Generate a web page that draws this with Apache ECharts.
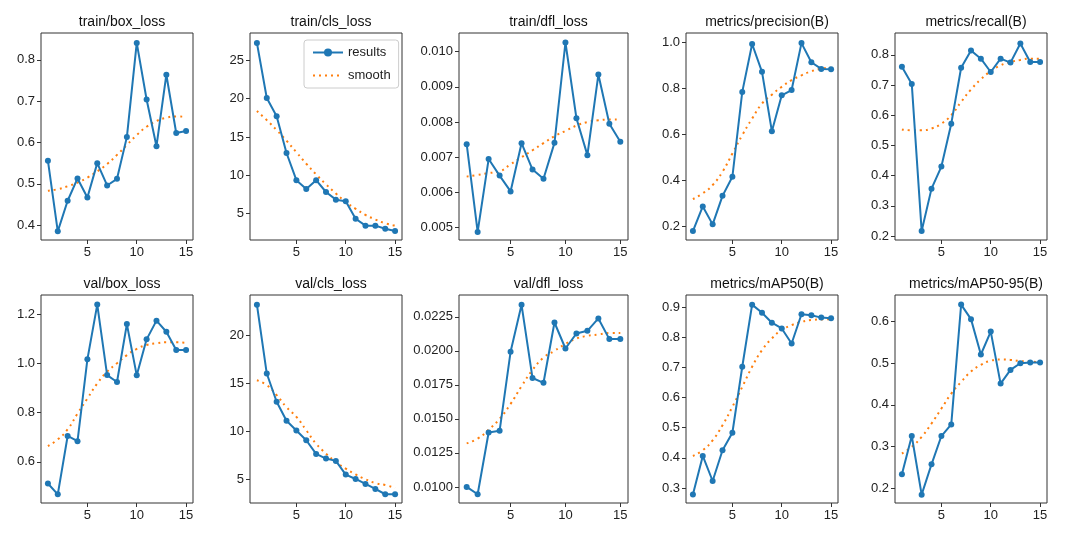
<!DOCTYPE html>
<html><head><meta charset="utf-8">
<script src="https://cdn.jsdelivr.net/npm/echarts@6/dist/echarts.min.js"></script>
<style>html,body{margin:0;padding:0;background:#fff}#c{width:1080px;height:540px}</style>
</head><body><div id="c"></div>
<script>
const epochs = [1,2,3,4,5,6,7,8,9,10,11,12,13,14,15];
const titles = ['train/box_loss','train/cls_loss','train/dfl_loss','metrics/precision(B)','metrics/recall(B)',
                'val/box_loss','val/cls_loss','val/dfl_loss','metrics/mAP50(B)','metrics/mAP50-95(B)'];
const trainBox = [0.556,0.385,0.459,0.513,0.467,0.550,0.496,0.512,0.613,0.841,0.704,0.591,0.764,0.623,0.628];
const trainBoxSm = [0.483,0.487,0.494,0.503,0.515,0.530,0.548,0.570,0.594,0.618,0.638,0.652,0.660,0.663,0.662];
const trainCls = [27.3,20.1,17.7,12.9,9.35,8.2,9.35,7.8,6.8,6.6,4.3,3.4,3.4,3.0,2.7];
const trainClsSm = [18.4,17.2,15.9,14.5,13.0,11.5,10.1,8.8,7.6,6.5,5.6,4.8,4.2,3.7,3.4];
const trainDfl = [0.00737,0.00488,0.00695,0.00648,0.00603,0.00740,0.00665,0.00639,0.00741,0.01026,0.00811,0.00706,0.00935,0.00795,0.00744];
const trainDflSm = [0.00645,0.0065,0.00655,0.0066,0.0068,0.0070,0.0072,0.0074,0.0076,0.00775,0.0079,0.0080,0.00805,0.00807,0.00807];
const precision = [0.181,0.288,0.210,0.334,0.417,0.786,0.994,0.873,0.615,0.771,0.794,0.998,0.915,0.886,0.884];
const precisionSm = [0.320,0.345,0.381,0.439,0.518,0.598,0.670,0.735,0.774,0.808,0.837,0.858,0.876,0.887,0.891];
const recall = [0.760,0.703,0.217,0.357,0.430,0.572,0.757,0.814,0.787,0.743,0.787,0.774,0.837,0.776,0.776];
const recallSm = [0.553,0.550,0.550,0.556,0.572,0.600,0.644,0.685,0.719,0.746,0.765,0.776,0.783,0.787,0.787];
const valBox = [0.512,0.468,0.705,0.684,1.016,1.238,0.952,0.924,1.159,0.951,1.097,1.173,1.128,1.054,1.054];
const valBoxSm = [0.664,0.691,0.732,0.796,0.857,0.918,0.966,1.0,1.033,1.058,1.074,1.081,1.085,1.085,1.083];
const valCls = [23.16,16.0,13.06,11.08,10.07,9.06,7.64,7.15,6.91,5.49,5.03,4.51,3.99,3.44,3.44];
const valClsSm = [15.3,14.8,13.75,12.5,11.5,10.1,8.7,7.67,6.8,6.1,5.5,5.0,4.6,4.4,4.1];
const valDfl = [0.0100,0.00946,0.0140,0.01412,0.01993,0.02338,0.0180,0.01765,0.02208,0.02017,0.02127,0.02147,0.02238,0.02086,0.02086];
const valDflSm = [0.0132,0.01355,0.0142,0.0150,0.0161,0.0174,0.0186,0.0195,0.0200,0.0205,0.0209,0.0211,0.0212,0.0213,0.0213];
const map50 = [0.278,0.406,0.323,0.425,0.483,0.702,0.908,0.881,0.848,0.829,0.779,0.876,0.873,0.865,0.863];
const map50Sm = [0.406,0.425,0.458,0.508,0.569,0.635,0.702,0.757,0.796,0.824,0.840,0.851,0.857,0.859,0.860];
const map5095 = [0.233,0.325,0.184,0.257,0.325,0.353,0.641,0.606,0.521,0.576,0.451,0.484,0.500,0.502,0.502];
const map5095Sm = [0.283,0.299,0.323,0.355,0.391,0.427,0.455,0.480,0.496,0.506,0.509,0.508,0.505,0.504,0.502];
const xTicks = [5,10,15];
const yTicks = [
  [0.4,0.5,0.6,0.7,0.8],[5,10,15,20,25],[0.005,0.006,0.007,0.008,0.009,0.010],[0.2,0.4,0.6,0.8,1.0],[0.2,0.3,0.4,0.5,0.6,0.7,0.8],
  [0.6,0.8,1.0,1.2],[5,10,15,20],[0.0100,0.0125,0.0150,0.0175,0.0200,0.0225],[0.3,0.4,0.5,0.6,0.7,0.8,0.9],[0.2,0.3,0.4,0.5,0.6]];
const yDigits = [1,0,3,1,1,1,0,4,1,1];
const yRanges = [[0.364,0.865],[1.52,28.6],[0.00465,0.01053],[0.142,1.042],[0.187,0.872],
                 [0.433,1.277],[2.53,24.17],[0.00882,0.0241],[0.25,0.94],[0.164,0.664]];
const results = [trainBox,trainCls,trainDfl,precision,recall,valBox,valCls,valDfl,map50,map5095];
const smooth = [trainBoxSm,trainClsSm,trainDflSm,precisionSm,recallSm,valBoxSm,valClsSm,valDflSm,map50Sm,map5095Sm];

const lefts=[41,250,459,686,895], widths=[152,152,169,152,152], tops=[33,295], heights=[207,208];
const font='Liberation Sans';
const grid=[],xAxis=[],yAxis=[],series=[],title=[];
for(let i=0;i<10;i++){
  const c=i%5,r=Math.floor(i/5);
  grid.push({left:lefts[c],top:tops[r],width:widths[c],height:heights[r],show:true,borderColor:'#333',borderWidth:1,backgroundColor:'#fff'});
  title.push({text:titles[i],left:lefts[c]+widths[c]/2,top:tops[r]-23,textAlign:'center',textStyle:{fontFamily:font,fontSize:14,fontWeight:'normal',color:'#111'}});
  xAxis.push({type:'value',gridIndex:i,min:0.3,max:15.7,splitLine:{show:false},
    axisLine:{show:false},axisTick:{show:true,customValues:xTicks,length:4,lineStyle:{color:'#333'}},
    axisLabel:{customValues:xTicks,fontFamily:font,fontSize:13,color:'#222',margin:6}});
  const d=yDigits[i];
  yAxis.push({type:'value',gridIndex:i,min:yRanges[i][0],max:yRanges[i][1],splitLine:{show:false},
    axisLine:{show:false},axisTick:{show:true,customValues:yTicks[i],length:4,lineStyle:{color:'#333'}},
    axisLabel:{customValues:yTicks[i],fontFamily:font,fontSize:13,color:'#222',margin:6,formatter:v=>v.toFixed(d)}});
  series.push({name:'results',type:'line',xAxisIndex:i,yAxisIndex:i,data:epochs.map((e,k)=>[e,results[i][k]]),
    symbol:'circle',symbolSize:6,itemStyle:{color:'#1f77b4'},lineStyle:{color:'#1f77b4',width:2},animation:false,z:3});
  series.push({name:'smooth',type:'line',xAxisIndex:i,yAxisIndex:i,data:epochs.map((e,k)=>[e,smooth[i][k]]),
    smooth:true,symbol:'none',itemStyle:{color:'#ff7f0e'},lineStyle:{color:'#ff7f0e',width:2,type:[2,4]},animation:false,z:2});
}
const chart=echarts.init(document.getElementById('c'));
chart.setOption({backgroundColor:'#fff',animation:false,title,grid,xAxis,yAxis,series,
  legend:{left:304,top:40,orient:'vertical',itemWidth:30,itemHeight:10,itemGap:10,padding:[6,8,6,8],
    borderColor:'#ccc',borderWidth:1,borderRadius:3,backgroundColor:'#fff',
    textStyle:{fontFamily:font,fontSize:13,color:'#222'},
    data:[{name:'results'},{name:'smooth',itemStyle:{opacity:0}}],z:10}});
</script></body></html>
